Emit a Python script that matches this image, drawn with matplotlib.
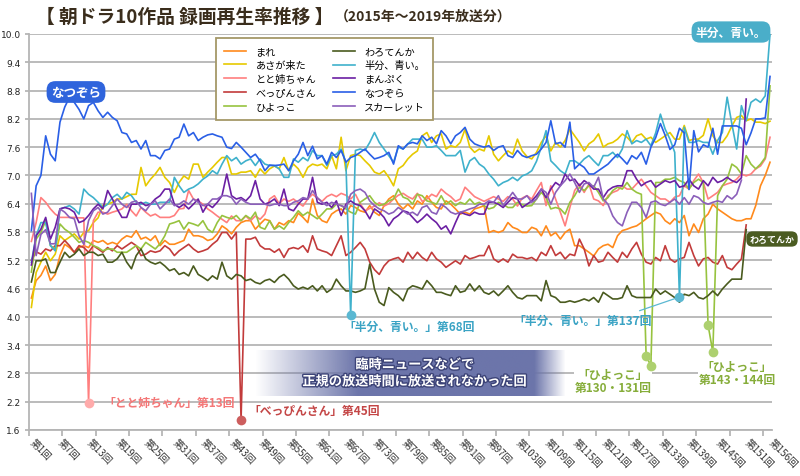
import numpy as np
import matplotlib
matplotlib.use('Agg')
import matplotlib.pyplot as plt
import matplotlib.patheffects as pe
from matplotlib.colors import to_rgb

plt.rcParams['font.family'] = ['Noto Sans CJK JP', 'DejaVu Sans']

# ---- data: 録画再生率 (%) per episode ----
names = ['まれ', 'あさが来た', 'とと姉ちゃん', 'べっぴんさん', 'ひよっこ',
         'わろてんか', '半分、青い。', 'まんぷく', 'なつぞら', 'スカーレット']

mare = [4.4, 4.77, 4.88, 5.08, 4.77, 4.9, 5.3, 5.54, 5.47, 5.37,
        5.47, 5.51, 5.47, 5.62, 5.58, 5.62, 5.54, 5.58, 5.54, 5.65,
        5.72, 5.69, 5.83, 5.65, 5.69, 5.62, 5.72, 5.51, 5.62, 5.54,
        5.54, 5.58, 5.62, 5.86, 5.72, 5.72, 5.69, 5.62, 5.65, 5.76,
        5.93, 5.86, 5.76, 5.9, 6.0, 6.04, 6.04, 5.86, 5.97, 6.07,
        6.04, 5.86, 6.0, 5.95, 6.04, 6.0, 6.2, 6.11, 6.0, 6.5,
        6.15, 6.04, 6.0, 6.18, 6.25, 6.29, 6.18, 6.36, 6.32, 6.25,
        6.22, 6.36, 6.22, 6.15, 6.36, 6.5, 6.57, 6.39, 6.29, 6.39,
        6.29, 6.46, 6.39, 6.57, 6.43, 6.32, 6.29, 6.46, 6.39, 6.29,
        6.18, 6.22, 6.18, 6.29, 6.32, 6.36, 5.79, 5.83, 5.79, 5.83,
        6.0, 5.9, 5.86, 5.79, 5.79, 5.9, 5.86, 5.72, 5.93, 5.72,
        5.79, 5.65, 5.79, 5.86, 5.51, 5.51, 5.44, 5.37, 5.29, 5.44,
        5.51, 5.54, 5.47, 5.72, 5.83, 5.86, 5.9, 5.93, 6.0, 6.08,
        6.15, 6.22, 6.18, 6.04, 5.97, 6.08, 6.0, 6.15, 5.72, 5.97,
        5.79, 6.08, 6.18, 6.39, 6.29, 6.22, 6.15, 6.08, 6.04, 6.04,
        6.08, 6.08, 6.36, 6.78, 7.0, 7.28]

asa = [4.2, 4.94, 5.16, 5.37, 5.19, 5.33, 5.72, 5.62, 5.69, 5.76,
       5.65, 5.79, 5.83, 6.0, 6.1, 6.36, 6.39, 6.43, 6.5, 6.5,
       6.55, 6.6, 6.6, 7.17, 6.78, 6.92, 7.03, 7.17, 6.96, 6.85,
       6.64, 6.85, 6.99, 6.92, 7.24, 7.24, 6.96, 7.07, 7.17, 7.28,
       7.38, 7.38, 7.03, 7.03, 7.07, 7.07, 7.1, 6.96, 7.14, 7.03,
       7.14, 7.2, 7.14, 7.38, 7.1, 7.24, 7.14, 6.96, 7.17, 7.24,
       7.21, 7.24, 7.14, 7.42, 7.14, 7.81, 7.1, 7.42, 7.45, 7.42,
       7.31, 7.21, 7.07, 7.03, 7.1, 6.96, 6.78, 7.14, 7.21, 7.35,
       7.45, 7.52, 7.84, 7.91, 7.7, 7.84, 7.88, 7.56, 7.63, 7.6,
       7.7, 7.98, 7.6, 7.49, 7.56, 7.52, 7.84, 7.45, 7.31, 7.42,
       7.52, 7.45, 7.77, 7.52, 7.4, 7.35, 7.49, 7.7, 7.84, 7.52,
       7.7, 7.6, 7.74, 7.98, 7.84, 7.7, 7.52, 7.67, 7.74, 7.88,
       7.6, 7.67, 7.7, 7.77, 7.88, 7.81, 7.7, 7.84, 7.88, 7.77,
       7.81, 7.7, 7.77, 7.84, 7.91, 7.77, 7.77, 8.06, 7.74, 7.77,
       7.77, 7.85, 8.2, 7.84, 7.7, 7.7, 7.84, 8.05, 8.23, 8.27,
       8.16, 8.2, 8.13, 8.13, 8.1, 8.15]

toto = [5.6, 6.0, 6.53, 6.43, 6.29, 6.18, 6.11, 6.11, 6.11, 6.11,
        6.1, 6.1, 2.17, 6.04, 6.22, 6.22, 6.18, 6.22, 6.25, 6.29,
        6.39, 6.25, 6.14, 6.32, 6.22, 6.14, 6.18, 6.11, 6.11, 6.11,
        6.15, 6.29, 6.3, 6.68, 6.5, 6.46, 6.39, 6.29, 6.22, 6.14,
        6.07, 6.0, 6.14, 6.04, 6.04, 6.14, 6.04, 6.14, 6.07, 6.18,
        6.5, 6.57, 6.4, 6.5, 6.45, 6.5, 6.42, 6.35, 6.5, 6.6,
        6.52, 6.45, 6.55, 6.6, 6.55, 6.62, 6.58, 6.5, 6.6, 6.4,
        6.25, 6.3, 6.35, 6.42, 6.35, 6.4, 6.5, 6.58, 6.62, 6.55,
        6.5, 6.62, 6.45, 6.5, 6.6, 6.55, 6.71, 6.62, 6.55, 6.45,
        6.5, 6.75, 6.65, 6.55, 6.5, 6.45, 6.5, 6.55, 6.5, 6.45,
        6.55, 6.5, 6.35, 6.52, 6.57, 6.5, 6.68, 6.85, 6.36, 6.78,
        6.5, 6.22, 5.93, 6.32, 6.68, 6.82, 6.64, 6.82, 6.5, 6.46,
        6.36, 6.57, 6.64, 6.68, 6.78, 6.71, 6.71, 6.82, 6.92, 6.78,
        6.64, 6.57, 6.5, 6.5, 6.43, 6.54, 6.57, 6.78, 6.71, 6.89,
        7.03, 6.85, 6.5, 6.57, 6.64, 6.78, 6.82, 6.85, 6.92, 7.03,
        6.99, 7.03, 7.14, 7.2, 7.35, 7.81]

beppin = [5.2, 5.38, 5.33, 5.44, 5.4, 5.51, 5.51, 5.62, 5.51, 5.37,
          5.51, 5.47, 5.37, 5.51, 5.44, 5.37, 5.47, 5.4, 5.51, 5.44,
          5.51, 5.58, 5.51, 5.3, 5.33, 5.4, 5.37, 5.4, 5.51, 5.44,
          5.3, 5.4, 5.47, 5.54, 5.44, 5.37, 5.4, 5.44, 5.54, 5.62,
          5.79, 5.79, 5.65, 5.79, 1.82, 5.65, 5.65, 5.69, 5.51, 5.44,
          5.44, 5.37, 5.44, 5.26, 5.44, 5.47, 5.44, 5.51, 5.37, 5.72,
          5.44, 5.4, 5.37, 5.3, 5.51, 5.72, 5.3, 5.37, 5.47, 5.58,
          5.44, 5.16, 5.0, 4.9, 5.08, 5.19, 5.23, 5.26, 5.16, 5.37,
          5.23, 5.37, 5.26, 5.19, 5.37, 5.23, 5.16, 5.05, 5.12, 5.19,
          5.12, 5.3, 5.23, 5.26, 5.3, 5.3, 5.51, 5.23, 5.16, 5.23,
          5.16, 5.33, 5.26, 5.26, 5.23, 5.26, 5.19, 5.37, 5.3, 5.51,
          5.3, 5.37, 5.23, 5.33, 5.3, 5.65, 5.44, 5.08, 5.3, 5.16,
          5.19, 5.37, 5.26, 5.16, 5.37, 5.26, 5.44, 5.58, 5.33, 5.16,
          5.12, 5.26, 5.19, 5.51, 5.23, 5.16, 5.23, 5.26, 5.58, 5.3,
          5.08, 5.23, 5.26, 5.16, 5.12, 5.3, 5.05, 5.0, 5.12, 5.23,
          5.95]

hiyokko = [4.95, 5.65, 5.79, 6.04, 5.51, 5.44, 5.97, 5.86, 5.79, 5.69,
           5.58, 5.62, 5.58, 5.51, 5.47, 5.4, 5.44, 5.44, 5.37, 5.37,
           5.37, 5.44, 5.51, 5.44, 5.58, 5.51, 5.44, 5.55, 5.72, 5.97,
           6.0, 6.04, 5.86, 6.0, 5.97, 5.93, 6.04, 5.86, 5.79, 6.0,
           6.15, 6.11, 6.08, 6.15, 6.04, 6.15, 6.08, 6.22, 5.9, 5.86,
           6.04, 5.86, 5.93, 5.86, 6.0, 6.11, 6.25, 6.15, 6.22, 6.15,
           6.08, 6.18, 6.29, 6.29, 6.39, 6.36, 6.29, 6.22, 6.18, 6.43,
           6.5, 6.57, 6.43, 6.36, 6.39, 6.46, 6.5, 6.71, 6.54, 6.5,
           6.39, 6.6, 6.57, 6.46, 6.43, 6.39, 6.57, 6.39, 6.46, 6.36,
           6.43, 6.39, 6.5, 6.39, 6.43, 6.36, 6.29, 6.32, 6.43, 6.39,
           6.32, 6.32, 6.43, 6.38, 6.35, 6.36, 6.5, 6.64, 6.53, 6.29,
           6.32, 6.29, 6.18, 6.43, 6.57, 6.75, 6.68, 6.78, 6.78, 6.64,
           6.46, 6.53, 6.68, 6.75, 6.71, 6.85, 6.71, 6.64, 6.6, 3.18,
           2.96, 6.85, 6.85, 6.92, 6.92, 6.96, 6.89, 6.85, 6.71, 6.85,
           6.92, 6.85, 3.83, 3.25, 6.57, 6.78, 6.92, 7.24, 7.17, 7.03,
           7.42, 7.24, 7.14, 7.24, 7.38, 8.9]

warotenka = [4.74, 5.19, 5.19, 5.23, 4.94, 4.94, 5.16, 5.37, 5.26, 5.33,
             5.44, 5.3, 5.37, 5.37, 5.3, 5.33, 5.16, 5.16, 5.23, 5.37,
             5.16, 5.02, 5.3, 5.44, 5.23, 5.16, 5.12, 5.16, 5.08, 4.98,
             5.02, 4.9, 4.94, 4.87, 5.08, 4.9, 4.84, 4.77, 4.87, 4.8,
             5.16, 4.87, 4.8, 4.9, 4.87, 4.77, 4.8, 4.73, 4.7, 4.77,
             4.8, 4.73, 4.84, 4.9, 4.8, 4.66, 4.59, 4.63, 4.59, 4.66,
             4.55, 4.66, 4.52, 4.59, 4.8, 4.66, 4.55, 4.55, 4.52, 4.55,
             4.6, 5.12, 4.59, 4.31, 4.24, 4.62, 4.52, 4.45, 4.34, 4.59,
             4.66, 4.63, 4.59, 4.77, 4.66, 4.52, 4.52, 4.48, 4.45, 4.66,
             4.52, 4.55, 4.7, 4.55, 4.66, 4.52, 4.48, 4.55, 4.45, 4.55,
             4.66, 4.52, 4.41, 4.38, 4.45, 4.45, 4.45, 4.34, 4.77, 4.45,
             4.41, 4.31, 4.31, 4.34, 4.31, 4.34, 4.38, 4.34, 4.41, 4.31,
             4.52, 4.45, 4.38, 4.38, 4.41, 4.66, 4.45, 4.41, 4.41, 4.41,
             4.41, 4.59, 4.48, 4.55, 4.48, 4.41, 4.31, 4.48, 4.45, 4.52,
             4.41, 4.38, 4.45, 4.55, 4.45, 4.59, 4.7, 4.8, 4.8, 4.8,
             5.85]

hanbun = [5.16, 5.72, 6.0, 6.0, 5.51, 5.4, 6.29, 6.32, 6.36, 6.29,
          6.18, 6.71, 6.6, 6.53, 6.43, 6.32, 6.39, 6.53, 6.6, 6.5,
          6.64, 6.57, 6.43, 6.39, 6.43, 6.39, 6.39, 6.43, 6.43, 6.43,
          6.96, 6.78, 6.64, 6.71, 6.75, 6.82, 6.92, 6.99, 7.1, 7.03,
          7.24, 7.42, 7.31, 7.38, 7.24, 7.31, 7.35, 7.21, 7.35, 7.24,
          7.21, 7.21, 7.14, 6.96, 6.96, 7.35, 7.28, 7.38, 7.31, 7.53,
          7.42, 7.42, 7.21, 7.42, 7.45, 7.56, 7.28, 4.04, 7.53, 7.56,
          7.53, 7.7, 7.91, 7.7, 7.56, 7.42, 7.28, 7.6, 7.56, 7.67,
          7.77, 7.77, 7.77, 7.6, 7.6, 7.63, 7.53, 7.42, 7.42, 7.42,
          7.53, 7.07, 7.31, 7.38, 7.24, 7.17, 7.03, 6.92, 6.78, 6.85,
          6.89, 6.96, 6.89, 6.99, 7.03, 7.1, 7.3, 7.6, 7.95, 7.31,
          7.21, 7.1, 7.03, 7.31, 7.31, 7.24, 7.35, 7.42, 7.31, 7.21,
          7.42, 7.42, 7.49, 7.38, 7.56, 7.95, 7.67, 7.74, 7.7, 7.77,
          7.63, 7.9, 8.3, 7.98, 7.77, 7.49, 4.42, 8.02, 7.7, 7.7,
          7.74, 7.7, 7.7, 7.45, 7.74, 7.91, 8.66, 8.09, 7.56, 8.48,
          8.16, 8.55, 8.62, 8.55, 8.69, 10.0]

manpuku = [5.1, 5.72, 5.86, 6.11, 5.65, 5.9, 6.29, 6.32, 6.29, 6.22,
           6.0, 6.04, 6.15, 6.29, 6.39, 6.29, 6.68, 6.5, 6.29, 6.11,
           6.11, 6.39, 6.39, 6.43, 6.36, 6.39, 6.5, 6.57, 6.71, 6.71,
           6.39, 6.32, 6.39, 6.29, 6.39, 6.5, 6.22, 6.39, 6.32, 6.43,
           6.57, 7.03, 6.57, 6.5, 6.53, 6.46, 6.57, 6.89, 6.5, 6.39,
           6.43, 6.5, 6.36, 6.71, 6.29, 6.25, 6.39, 6.5, 6.5, 6.96,
           6.43, 6.39, 6.43, 6.32, 6.46, 6.15, 6.39, 6.46, 6.39, 6.36,
           6.25, 6.08, 6.29, 6.22, 6.11, 5.93, 6.08, 6.15, 6.25, 6.22,
           6.11, 6.0, 6.08, 6.18, 6.08, 6.0, 5.86, 5.93, 5.76, 6.0,
           6.22, 6.18, 6.15, 6.22, 6.18, 6.18, 6.43, 6.43, 6.39, 6.32,
           6.43, 6.53, 6.5, 6.32, 6.39, 6.46, 6.57, 6.71, 6.53, 6.71,
           6.85, 6.78, 7.03, 6.89, 6.92, 6.78, 6.89, 6.82, 6.71, 6.71,
           6.53, 6.68, 6.75, 6.78, 6.78, 7.1, 7.1, 6.92, 6.78, 6.85,
           6.89, 6.75, 6.82, 6.89, 6.85, 6.89, 6.75, 6.78, 6.92, 6.78,
           6.71, 6.89, 6.78, 6.96, 6.85, 6.89, 6.96, 6.89, 6.85, 6.95,
           8.62]

natsuzora = [5.83, 6.78, 7.0, 7.84, 7.45, 7.31, 8.13, 8.45, 8.66, 8.55,
             8.4, 8.2, 8.48, 8.55, 8.37, 8.23, 8.34, 8.23, 8.16, 7.91,
             7.88, 7.7, 7.74, 7.56, 7.74, 7.42, 7.42, 7.35, 7.53, 7.56,
             7.77, 7.81, 8.09, 7.84, 7.91, 7.74, 7.81, 7.86, 7.88, 7.84,
             7.81, 7.6, 7.57, 7.7, 7.6, 7.49, 7.38, 7.45, 7.31, 7.1,
             7.22, 7.21, 7.22, 7.24, 7.1, 7.31, 7.45, 7.7, 7.42, 7.62,
             7.35, 7.42, 7.24, 7.49, 7.38, 7.53, 7.28, 7.38, 7.42, 7.49,
             7.56, 7.45, 7.35, 7.38, 7.42, 7.49, 7.24, 7.63, 7.56, 7.67,
             7.7, 7.67, 7.84, 7.74, 7.81, 7.67, 7.95, 7.84, 7.67, 7.84,
             7.91, 8.02, 7.77, 7.67, 7.63, 7.6, 7.63, 7.53, 7.6, 7.63,
             7.42, 7.38, 7.53, 7.42, 7.38, 7.42, 7.45, 7.56, 7.7, 8.16,
             7.67, 7.7, 7.6, 8.13, 7.14, 7.24, 7.17, 7.03, 7.03, 7.1,
             7.17, 7.24, 7.35, 7.45, 7.35, 7.24, 7.42, 7.35, 7.49, 7.24,
             7.6, 7.8, 8.1, 7.85, 7.55, 7.65, 8.0, 7.9, 6.7, 7.95,
             7.5, 7.65, 7.6, 8.0, 7.45, 8.05, 8.05, 8.05, 8.05, 8.0,
             7.65, 7.9, 8.2, 8.2, 8.22, 9.1]

scarlet = [6.62, 5.3, 5.75, 5.85, 5.55, 5.55, 6.29, 6.22, 6.11, 6.08,
           5.72, 5.54, 6.04, 6.25, 6.32, 6.18, 6.22, 6.36, 6.5, 6.39,
           6.32, 6.43, 6.46, 6.32, 6.25, 6.39, 6.46, 6.29, 6.39, 6.5,
           6.36, 6.39, 6.46, 6.39, 6.5, 6.43, 6.36, 6.39, 6.5, 6.5,
           6.57, 6.57, 6.53, 6.39, 6.5, 6.43, 6.39, 6.39, 6.39, 6.39,
           6.36, 6.39, 6.39, 6.36, 6.36, 6.43, 6.46, 6.53, 6.5, 6.68,
           6.53, 6.43, 6.36, 6.43, 6.39, 6.36, 6.32, 6.6, 6.68, 6.71,
           6.64, 6.46, 6.36, 6.29, 6.25, 6.18, 6.22, 6.32, 6.25, 6.18,
           6.22, 6.15, 6.32, 6.36, 6.22, 6.18, 6.39, 6.32, 6.22, 6.18,
           6.22, 6.25, 6.29, 6.32, 6.39, 6.39, 6.46, 6.43, 6.57, 6.36,
           6.5, 6.64, 6.5, 6.5, 6.57, 6.43, 6.5, 6.71, 6.64, 6.39,
           6.64, 6.78, 6.89, 7.03, 6.85, 6.64, 6.82, 6.85, 6.75, 6.96,
           6.5, 6.39, 6.14, 6.0, 5.93, 6.22, 6.43, 6.43, 6.32, 6.11,
           6.43, 6.46, 6.39, 6.36, 6.43, 6.5, 6.39, 6.53, 6.39, 6.57,
           6.53, 6.43, 6.39, 6.43, 6.46, 6.43, 6.57, 6.5, 6.6, 6.9]

series = [mare, asa, toto, beppin, hiyokko, warotenka, hanbun, manpuku, natsuzora, scarlet]
colors = ['#ff8a1c', '#e6c900', '#ff7f7f', '#c23b3b', '#97c33f',
          '#4a5b1f', '#3fb1cc', '#6b1fa3', '#2a5fe6', '#8b5fba']

x_labels = [1, 7, 13, 19, 25, 31, 37, 43, 49, 55, 61, 67, 73, 79, 85, 91, 97,
            103, 109, 115, 121, 127, 133, 139, 145, 151, 156]
y_ticks = np.round(np.arange(1.6, 10.01, 0.6), 1)

W, H = 800, 477
fig = plt.figure(figsize=(8, 4.77), dpi=100)
ax = fig.add_axes([29 / W, 1 - 431 / H, 743.4 / W, 396 / H])

def fx(px):
    return px / W

def fy(py):
    return 1 - py / H

for name, vals, c in zip(names, series, colors):
    ep = np.arange(1, len(vals) + 1)
    ax.plot(ep, vals, color=c, lw=1.2, label=name, zorder=3)

# special (interrupted broadcast) episodes
dots = [(toto, 13, '#ffabab'), (beppin, 45, '#cd5e5e'),
        (hanbun, 68, '#5bb8d2'), (hanbun, 137, '#5bb8d2'),
        (hiyokko, 130, '#add06f'), (hiyokko, 131, '#add06f'),
        (hiyokko, 143, '#add06f'), (hiyokko, 144, '#add06f')]
for vals, ep, c in dots:
    ax.plot(ep, vals[ep - 1], 'o', ms=7, color=c, mec='none', zorder=5)

ax.set_xlim(0.5, 156.5)
ax.set_ylim(1.6, 10.0)
ax.set_yticks(y_ticks)
ax.set_yticklabels(['%.1f' % v for v in y_ticks], fontsize=6.5,
                   color='#222222', family='DejaVu Sans')
ax.set_xticks(x_labels)
ax.set_xticklabels(['第%d回' % n for n in x_labels], rotation=-45,
                   ha='left', va='center', rotation_mode='anchor',
                   fontsize=7, color='#333333')
ax.set_xticks(np.arange(0.5, 157, 7), minor=True)
ax.tick_params(axis='x', which='major', length=0, pad=7)
ax.tick_params(axis='x', which='minor', length=4, width=1.2, color='#b0b0b0', direction='out')
ax.tick_params(axis='y', length=3, width=1.2, color='#b0b0b0', pad=3)
ax.yaxis.grid(True, color='#b5b5b5', lw=1.3)
ax.set_axisbelow(True)
for s in ['top', 'right']:
    ax.spines[s].set_visible(False)
for s in ['left', 'bottom']:
    ax.spines[s].set_color('#b5b5b5')
    ax.spines[s].set_linewidth(1.3)

leg = ax.legend(ncol=2, loc='upper left', bbox_to_anchor=(fx(216), fy(39)),
                bbox_transform=fig.transFigure, fontsize=7.3, frameon=True,
                fancybox=False, edgecolor='#a59868', framealpha=1,
                borderpad=0.8, labelspacing=0.38, handlelength=2.2,
                handletextpad=0.9, columnspacing=1.6, borderaxespad=0)
leg.get_frame().set_linewidth(1.3)
leg.set_zorder(10)

# title
t1 = fig.text(fx(36), fy(17), '【 朝ドラ10作品 録画再生率推移 】', fontsize=13.5,
              fontweight='bold', va='center', ha='left', color='#3a2d1c')
fig.canvas.draw()
bb = t1.get_window_extent(fig.canvas.get_renderer())
fig.text(bb.x1 / W + 0.002, fy(17), '（2015年～2019年放送分）', fontsize=10,
         fontweight='bold', va='center', ha='left', color='#3a2d1c')

# series badges
def badge(px, py, text, fc, size):
    fig.text(fx(px), fy(py), text, fontsize=size, fontweight='bold', color='white',
             ha='center', va='center', zorder=12,
             bbox=dict(boxstyle='round,pad=0.35,rounding_size=0.7', fc=fc, ec='none'))

badge(76, 93, 'なつぞら', '#2f64dc', 9)
badge(731, 33, '半分、青い。', '#4aaec9', 8.5)
badge(772, 240, 'わろてんか', '#4b5c22', 6.5)

# labels for interrupted episodes
fig.text(fx(103), fy(403), '「とと姉ちゃん」第13回', fontsize=8.5, fontweight='bold',
         color='#f47777', va='center', ha='left')
fig.text(fx(248), fy(412), '「べっぴんさん」第45回', fontsize=8.5, fontweight='bold',
         color='#c44646', va='center', ha='left')
fig.text(fx(343), fy(327), '「半分、青い。」第68回', fontsize=8.5, fontweight='bold',
         color='#3aa3c4', va='center', ha='left')
ax.annotate('「半分、青い。」第137回', xy=(137, hanbun[136]), xycoords='data',
            xytext=(fx(583), fy(321)), textcoords='figure fraction',
            fontsize=8.5, fontweight='bold', color='#3aa3c4', ha='center', va='center',
            arrowprops=dict(arrowstyle='-', color='#5bb8d2', lw=0.9,
                            shrinkA=0, shrinkB=3, relpos=(0.85, 1.0)))
ax.text(fx(613), fy(382), '「ひよっこ」\n第130・131回', transform=fig.transFigure,
        fontsize=8.5, fontweight='bold', color='#86ad3a', va='center', ha='center',
        linespacing=1.0, zorder=2.5, bbox=dict(fc='white', ec='none', pad=0.5))
ax.text(fx(737), fy(374), '「ひよっこ」\n第143・144回', transform=fig.transFigure,
        fontsize=8.5, fontweight='bold', color='#86ad3a', va='center', ha='center',
        linespacing=1.0, zorder=2.5, bbox=dict(fc='white', ec='none', pad=0.5))

# shaded note box
def dx(px):
    return 1 + (px - 31) / 4.772

def dy(py):
    return 10 - (py - 35) * 8.4 / 396

base = np.array(to_rgb('#6c75aa'))
t = np.linspace(0, 1, 300)
alpha = np.clip(np.minimum(t / 0.33, (1 - t) / 0.1), 0, 1)
grad = np.zeros((2, t.size, 4))
grad[..., :3] = base
grad[..., 3] = alpha
ax.imshow(grad, extent=[dx(255), dx(566), dy(397), dy(352)], aspect='auto',
          interpolation='bilinear', zorder=6)
ax.set_xlim(0.5, 156.5)
ax.set_ylim(1.6, 10.0)
note = fig.text(fx(415), fy(374), '臨時ニュースなどで\n正規の放送時間に放送されなかった回',
                fontsize=9.5, fontweight='bold', color='white', ha='center', va='center',
                linespacing=1.25, zorder=13)
note.set_path_effects([pe.withStroke(linewidth=2, foreground='#3d4478')])

fig.savefig('out.png', dpi=100)
